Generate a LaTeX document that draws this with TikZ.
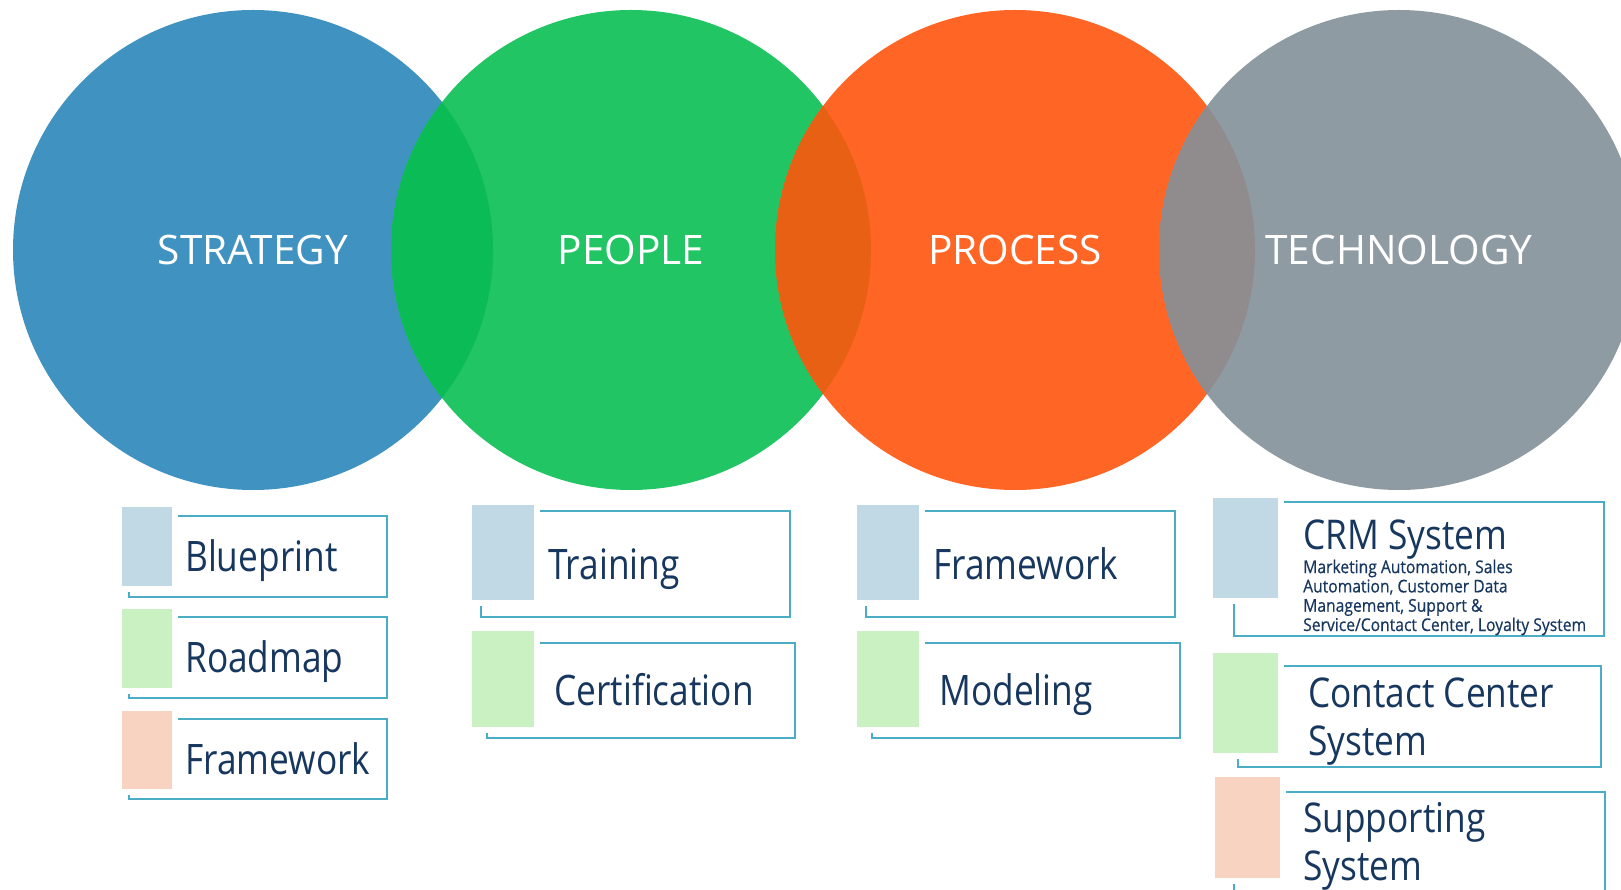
\documentclass[tikz,border=0pt]{standalone}
\usepackage{fontspec}
\setmainfont{Open Sans}
\newfontfamily\boxfont[FakeStretch=0.84]{Open Sans}
\newfontfamily\techfont[FakeStretch=0.86]{Open Sans}
\newfontfamily\notefont[FakeStretch=0.89,FakeBold=0.6]{Open Sans}
\usetikzlibrary{positioning}

\definecolor{stratblue}{RGB}{64,146,192}
\definecolor{peoplegreen}{RGB}{34,197,99}
\definecolor{procorange}{RGB}{255,101,36}
\definecolor{techgray}{RGB}{143,155,162}
\definecolor{lensone}{RGB}{11,187,85}
\definecolor{lenstwo}{RGB}{232,96,20}
\definecolor{lensthree}{RGB}{144,139,140}
\definecolor{tileblue}{RGB}{192,217,228}
\definecolor{tilegreen}{RGB}{201,241,193}
\definecolor{tilepeach}{RGB}{249,211,194}
\definecolor{framecol}{RGB}{75,172,198}
\definecolor{navy}{RGB}{23,55,94}

\begin{document}
\begin{tikzpicture}
  [x=1pt,y=-1pt,
   ring/.style={circle,inner sep=0,minimum size=480pt},
   ringlabel/.style={text=white,inner sep=0,font=\fontsize{40.6}{48}\selectfont},
   frame/.style={draw=framecol,line width=2pt},
   lbl/.style={anchor=base west,inner sep=0,text=navy,align=left,font=\fontsize{42}{48}\boxfont},
   techlbl/.style={lbl,font=\fontsize{41}{47.5}\techfont},
   note/.style={lbl,font=\fontsize{17.6}{19.3}\notefont}]
  \useasboundingbox (0,0) rectangle (1621,890);
  \clip (0,0) rectangle (1621,890);

  % circles
  \foreach \x/\col/\name in {253/stratblue/strat, 631/peoplegreen/people,
                             1015/procorange/proc, 1399/techgray/tech}
    \node[ring,fill=\col] (\name) at (\x,250) {};

  % overlaps
  \foreach \xa/\xb/\col in {253/631/lensone, 631/1015/lenstwo, 1015/1399/lensthree}
  {
    \begin{scope}
      \clip (\xa,250) circle (240);
      \fill[\col] (\xb,250) circle (240);
    \end{scope}
  }

  \node[ringlabel] (strat-lbl) at (strat) {STRATEGY};
  \node[ringlabel] (people-lbl) at (people) {PEOPLE};
  \node[ringlabel] (proc-lbl) at (proc) {PROCESS};
  \node[ringlabel] (tech-lbl) at (tech) {TECHNOLOGY};

  % frames
  \foreach \xa/\ya/\xb/\yb in {129/516/387/597, 129/617/387/698, 129/719/387/799,
                               481/511/790/617, 487/643/795/738,
                               866/511/1175/617, 872/643/1180/738,
                               1234/502/1604/636, 1238/666/1601/767, 1234/792/1605/940}
    \draw[frame] (\xa,\ya) rectangle (\xb,\yb);

  % tiles
  \foreach \xa/\ya/\xb/\yb/\col in {122/507/172/586/tileblue, 122/609/172/688/tilegreen,
                                    122/711/172/789/tilepeach,
                                    472/505/534/600/tileblue, 472/631/534/727/tilegreen,
                                    857/505/919/600/tileblue, 857/631/919/727/tilegreen,
                                    1213/498/1278/598/tileblue, 1213/653/1278/753/tilegreen,
                                    1215/777/1280/878/tilepeach}
  {
    \fill[white] (\xa-6,\ya-6) rectangle (\xb+6,\yb+6);
    \fill[\col] (\xa,\ya) rectangle (\xb,\yb);
  }

  % labels (multi-line ones sit on their last baseline)
  \node[lbl] (blueprint) at (185,571) {Blueprint};
  \node[lbl] (roadmap) at (185,672) {Roadmap};
  \node[lbl] (strat-fw) at (185,774) {Framework};
  \node[lbl] (training) at (548,579) {Training};
  \node[lbl] (certif) at (554,705) {Certification};
  \node[lbl] (proc-fw) at (933,579) {Framework};
  \node[lbl] (modeling) at (939,705) {Modeling};
  \node[techlbl] (crm) at (1303,549) {CRM System};
  \node[note] (crm-note) at (1303,631) {Marketing Automation, Sales\\Automation, Customer Data\\Management, Support \&\\Service/Contact Center, Loyalty System};
  \node[techlbl] (contact) at (1308,755) {Contact Center\\System};
  \node[techlbl] (support) at (1303,880) {Supporting\\System};
\end{tikzpicture}
\end{document}
